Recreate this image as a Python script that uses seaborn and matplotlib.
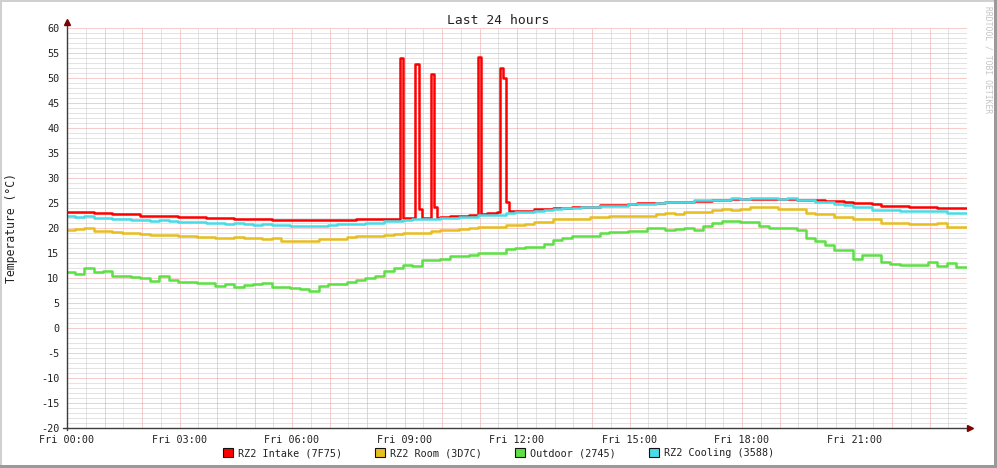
import numpy as np
import pandas as pd
import matplotlib
matplotlib.use('Agg')
import matplotlib.pyplot as plt
from matplotlib.patches import Patch, Rectangle
from matplotlib.ticker import MultipleLocator, FuncFormatter
import seaborn as sns

# 15-minute samples, Fri 00:00 .. Sat 00:00 (97 values each)
intake = [
    23.3, 23.3, 23.3, 23.1, 23.1, 22.8, 22.8, 22.8, 22.5, 22.5, 22.5, 22.5,
    22.2, 22.2, 22.2, 22.05, 22.05, 22.05, 21.8, 21.8, 21.8, 21.8, 21.7, 21.7,
    21.7, 21.55, 21.55, 21.55, 21.55, 21.55, 21.55, 21.75, 21.75, 21.75, 21.75, 21.75,
    21.95, 21.95, 22.0, 22.05, 22.3, 22.35, 22.5, 22.7, 22.9, 23.1, 23.15, 23.4,
    23.45, 23.5, 23.75, 23.75, 23.95, 23.95, 24.25, 24.3, 24.3, 24.6, 24.6, 24.65,
    24.9, 24.95, 24.95, 25.0, 25.25, 25.3, 25.3, 25.45, 25.5, 25.6, 25.65, 25.75,
    25.85, 25.9, 25.9, 25.9, 25.85, 25.8, 25.65, 25.6, 25.6, 25.35, 25.35, 25.3,
    24.95, 24.95, 24.9, 24.5, 24.45, 24.45, 24.15, 24.15, 24.15, 24.1, 24.1, 24.1,
    24.1,
]
room = [
    19.7, 19.75, 19.95, 19.5, 19.45, 19.15, 19.1, 18.95, 18.75, 18.6, 18.6, 18.55,
    18.4, 18.4, 18.3, 18.25, 17.95, 18.1, 18.15, 18.1, 17.95, 17.9, 17.95, 17.5,
    17.45, 17.5, 17.45, 17.8, 17.8, 17.85, 18.3, 18.35, 18.5, 18.45, 18.7, 18.75,
    19.05, 19.1, 19.1, 19.5, 19.55, 19.55, 19.9, 19.95, 20.25, 20.3, 20.3, 20.6,
    20.65, 20.8, 21.25, 21.3, 21.75, 21.8, 21.8, 21.85, 22.15, 22.15, 22.45, 22.5,
    22.45, 22.5, 22.5, 22.8, 22.95, 22.9, 23.25, 23.3, 23.25, 23.7, 23.75, 23.7,
    23.8, 24.2, 24.25, 24.15, 23.8, 23.8, 23.75, 22.95, 22.9, 22.9, 22.3, 22.25,
    21.8, 21.8, 21.75, 21.1, 21.05, 21.1, 20.8, 20.85, 20.8, 21.0, 20.3, 20.25,
    20.25,
]
outdoor = [
    11.3, 10.8, 12.0, 11.2, 11.4, 10.5, 10.45, 10.15, 10.1, 9.4, 10.4, 9.6,
    9.2, 9.15, 9.1, 8.95, 8.5, 8.9, 8.3, 8.7, 8.75, 9.1, 8.3, 8.2,
    8.1, 7.9, 7.5, 8.4, 8.9, 8.9, 9.2, 9.6, 10.1, 10.5, 11.5, 12.1,
    12.6, 12.5, 13.6, 13.6, 13.9, 14.4, 14.5, 14.6, 15.05, 15.1, 15.1, 15.9,
    16.0, 16.25, 16.3, 16.9, 17.6, 18.0, 18.4, 18.35, 18.4, 19.0, 19.15, 19.2,
    19.45, 19.5, 20.05, 20.1, 19.65, 19.75, 20.0, 19.7, 20.4, 20.95, 21.4, 21.4,
    21.3, 21.15, 20.5, 20.1, 20.1, 20.0, 19.6, 18.0, 17.5, 16.7, 15.6, 15.6,
    13.9, 14.6, 14.6, 13.3, 12.8, 12.7, 12.6, 12.6, 13.3, 12.4, 13.1, 12.2,
    12.2,
]
cooling = [
    22.35, 22.3, 22.4, 22.1, 22.05, 21.8, 21.8, 21.6, 21.6, 21.5, 21.55, 21.5,
    21.3, 21.25, 21.25, 20.95, 20.95, 20.9, 20.95, 20.75, 20.7, 20.75, 20.7, 20.7,
    20.45, 20.4, 20.35, 20.4, 20.7, 20.75, 20.8, 20.85, 20.95, 20.95, 21.35, 21.4,
    21.7, 21.75, 21.75, 21.9, 21.95, 22.0, 22.25, 22.3, 22.6, 22.6, 22.65, 23.1,
    23.2, 23.3, 23.5, 23.55, 23.9, 23.95, 24.1, 24.15, 24.15, 24.45, 24.5, 24.5,
    24.8, 24.8, 24.85, 25.1, 25.25, 25.3, 25.25, 25.55, 25.6, 25.6, 25.65, 25.95,
    25.9, 26.0, 25.95, 25.95, 25.9, 25.95, 25.6, 25.55, 25.3, 25.25, 24.75, 24.7,
    24.2, 24.2, 23.7, 23.65, 23.65, 23.4, 23.4, 23.35, 23.4, 23.35, 23.1, 23.05,
    23.05,
]

# single 5-minute samples of the intake sensor (spikes and the bumps after them)
intake_spikes = [
    ("08:55", 54.1), ("09:20", 52.8), ("09:25", 23.9), ("09:45", 50.8),
    ("09:50", 24.3), ("11:00", 54.2), ("11:35", 52.1), ("11:40", 50.1),
    ("11:45", 25.3),
]

names = ["RZ2 Intake (7F75)", "RZ2 Room (3D7C)", "Outdoor (2745)", "RZ2 Cooling (3588)"]
colors = ["#FF0000", "#E8BE1E", "#5CE044", "#48DCE8"]
hour_labels = ["Fri 00:00", "Fri 03:00", "Fri 06:00", "Fri 09:00",
               "Fri 12:00", "Fri 15:00", "Fri 18:00", "Fri 21:00"]

W, H = 997, 468
TEXT = '#222222'


def to_5min(vals):
    """Hold each 15 minute value for three 5 minute slots."""
    return list(np.repeat(np.array(vals[:-1]), 3)) + [vals[-1]]


def build_frame():
    """Long-form table of all four sensors on a 5 minute grid."""
    series = [to_5min(v) for v in (intake, room, outdoor, cooling)]
    for stamp, value in intake_spikes:
        hh, mm = map(int, stamp.split(':'))
        series[0][(hh * 60 + mm) // 5] = value
    hours = np.arange(len(series[0])) / 12.0

    frames = [pd.DataFrame({'hour': hours, 'value': vals, 'sensor': name})
              for name, vals in zip(names, series)]
    return pd.concat(frames, ignore_index=True)


def x_label(v, pos):
    h = int(round(v))
    if h % 3 == 0 and h // 3 < len(hour_labels):
        return hour_labels[h // 3]
    return ''


def draw():
    sns.set_style('white')
    plt.rcParams['font.family'] = ['DejaVu Sans Mono', 'DejaVu Sans']
    plt.rcParams['axes.unicode_minus'] = False

    fig = plt.figure(figsize=(W / 100, H / 100), dpi=100, facecolor='white')
    ax = fig.add_axes([67 / W, 40 / H, 900 / W, 400 / H])

    df = build_frame()
    sns.lineplot(data=df, x='hour', y='value', hue='sensor', hue_order=names,
                 palette=dict(zip(names, colors)), linewidth=1.8,
                 drawstyle='steps-mid', estimator=None, sort=False,
                 legend=False, ax=ax)

    ax.set_xlim(0, 24)
    ax.set_ylim(-20, 60)
    ax.set_xlabel('')
    ax.set_ylabel('')

    # grid: grey every 30 min / 1 degree, red every hour / 5 degrees
    ax.xaxis.set_major_locator(MultipleLocator(1))
    ax.xaxis.set_minor_locator(MultipleLocator(0.5))
    ax.yaxis.set_major_locator(MultipleLocator(5))
    ax.yaxis.set_minor_locator(MultipleLocator(1))
    ax.xaxis.set_major_formatter(FuncFormatter(x_label))
    ax.set_axisbelow(True)
    ax.grid(which='minor', color='#C8C8C8', linestyle=(0, (1, 1)), linewidth=0.72)
    ax.grid(which='major', color='#F09A9A', linestyle=(0, (1, 1)), linewidth=0.72)

    ax.tick_params(which='both', direction='out', labelsize=7.3, labelcolor=TEXT,
                   color='#A0A0A0', width=0.7)
    ax.tick_params(which='major', length=2.5)
    ax.tick_params(which='minor', length=1.5)
    ax.tick_params(axis='y', pad=3)
    ax.tick_params(axis='x', pad=2.5)

    for s in ax.spines.values():
        s.set_visible(False)

    # axis lines with arrow heads
    ax.plot([0, 0], [-0.005, 1.015], transform=ax.transAxes, clip_on=False,
            color='#3C3C3C', lw=1.0, zorder=5)
    ax.plot([-0.004, 1.004], [0, 0], transform=ax.transAxes, clip_on=False,
            color='#3C3C3C', lw=1.0, zorder=5)
    ax.plot([0], [1.016], marker='^', ms=4.2, color='#7F0000', transform=ax.transAxes,
            clip_on=False, zorder=6)
    ax.plot([1.0035], [0], marker='>', ms=4.2, color='#7F0000', transform=ax.transAxes,
            clip_on=False, zorder=6)

    fig.text(0.5, 1 - 20 / H, 'Last 24 hours', ha='center', va='center',
             fontsize=9.4, color=TEXT)
    fig.text(11 / W, 1 - 228 / H, 'Temperature (°C)', rotation=90, ha='center',
             va='center', fontsize=8.3, color=TEXT)
    fig.text(988 / W, 1 - 60 / H, 'RRDTOOL / TOBI OETIKER', rotation=270,
             ha='center', va='center', fontsize=5.8, color='#C4C4C4')

    handles = [Patch(facecolor=c, edgecolor='#111111', linewidth=0.8) for c in colors]
    fig.legend(handles, names, loc='center', bbox_to_anchor=(0.5, 15 / H), ncol=4,
               frameon=False, fontsize=7.3, handlelength=1.0, handleheight=1.0,
               handletextpad=0.5, columnspacing=3.25, borderaxespad=0,
               labelcolor=TEXT)

    # 3d-ish frame around the image
    fig.add_artist(Rectangle((0, 1 - 2 / H), 1, 2 / H, transform=fig.transFigure,
                             facecolor='#D0D0D0', edgecolor='none'))
    fig.add_artist(Rectangle((0, 0), 2 / W, 1, transform=fig.transFigure,
                             facecolor='#D0D0D0', edgecolor='none'))
    fig.add_artist(Rectangle((0, 0), 1, 3 / H, transform=fig.transFigure,
                             facecolor='#9A9A9A', edgecolor='none'))
    fig.add_artist(Rectangle((1 - 3 / W, 0), 3 / W, 1, transform=fig.transFigure,
                             facecolor='#9A9A9A', edgecolor='none'))

    fig.savefig('out.png', dpi=100, facecolor=fig.get_facecolor())
    plt.close(fig)


if __name__ == "__main__":
    draw()
